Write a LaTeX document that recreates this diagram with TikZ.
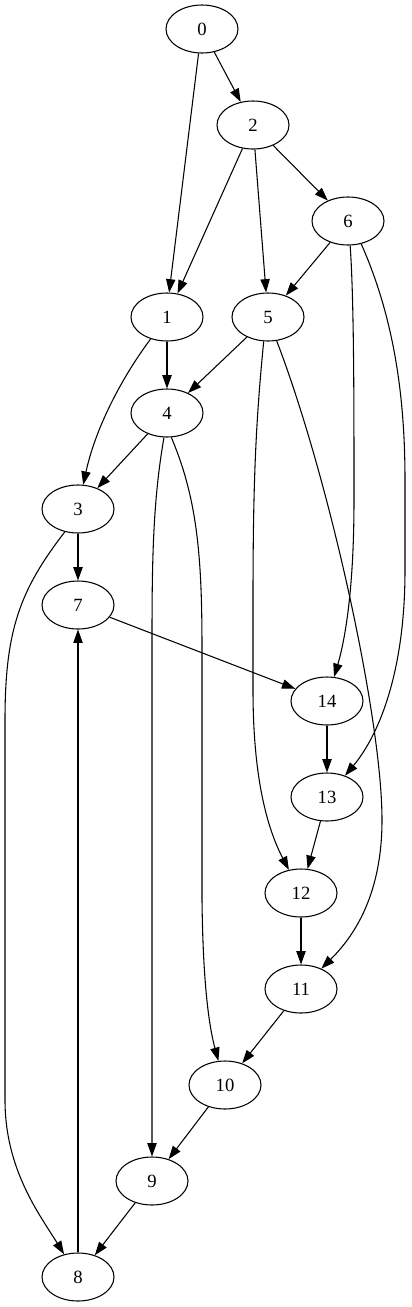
\documentclass[tikz,border=0pt]{standalone}
\usepackage{fontspec}
\setmainfont{Liberation Serif}
\usetikzlibrary{shapes.geometric, arrows.meta}

\begin{document}
\begin{tikzpicture}[
    x=0.75pt, y=-0.75pt,
    >={Triangle[length=10pt,width=7pt]},
    line width=0.8pt,
    vertex/.style={draw, ellipse, minimum width=54pt, minimum height=36pt,
        inner sep=0pt, font=\fontsize{14}{16}\selectfont}
]
    \useasboundingbox (0,0) rectangle (411,1307);

    % Define nodes
    \node[vertex] (n0) at (202,29) {0};
    \node[vertex] (n2) at (253,125) {2};
    \node[vertex] (n6) at (348,221) {6};
    \node[vertex] (n1) at (167,317) {1};
    \node[vertex] (n5) at (268,317) {5};
    \node[vertex] (n4) at (167,413) {4};
    \node[vertex] (n3) at (78,509) {3};
    \node[vertex] (n7) at (78,605) {7};
    \node[vertex] (n14) at (327,701) {14};
    \node[vertex] (n13) at (327,797) {13};
    \node[vertex] (n12) at (301,893) {12};
    \node[vertex] (n11) at (301,989) {11};
    \node[vertex] (n10) at (225,1085) {10};
    \node[vertex] (n9) at (152,1181) {9};
    \node[vertex] (n8) at (78,1277) {8};

    % Straight edges
    \path[->]
        (n0) edge (n2)
        (n0.-98) edge (n1.85)
        (n2) edge (n1)
        (n2) edge (n5)
        (n2) edge (n6)
        (n6) edge (n5)
        (n1) edge (n4)
        (n5) edge (n4)
        (n4) edge (n3)
        (n3) edge (n7)
        (n7) edge (n14)
        (n14) edge (n13)
        (n13) edge (n12)
        (n12) edge (n11)
        (n11) edge (n10)
        (n10) edge (n9)
        (n9) edge (n8)
        (n8) edge (n7);

    % Curved edges
    \draw[->] (n1) .. controls (120,380) and (95,430) .. (n3);
    \draw[->] (n4.-97) .. controls (153,500) and (152,560) .. (152,640) -- (152,1100) .. controls (152,1120) .. (n9);
    \draw[->] (n4.-80) .. controls (198,500) and (202,560) .. (202,650) -- (202,900) .. controls (203,990) and (210,1030) .. (n10);
    \draw[->] (n5.-100) .. controls (256,420) and (253,480) .. (253,600) -- (253,690) .. controls (253,780) and (268,830) .. (n12);
    \draw[->] (n5.-70) .. controls (330,480) and (382,720) .. (382,820) .. controls (382,900) and (350,940) .. (n11);
    \draw[->] (n6.-85) .. controls (354,300) and (354,400) .. (354,500) .. controls (354,590) and (345,640) .. (n14);
    \draw[->] (n6.-60) .. controls (395,320) and (405,400) .. (405,480) -- (405,570) .. controls (405,680) and (375,740) .. (n13);
    \draw[->] (n3.-120) .. controls (20,590) and (5,630) .. (5,720) -- (5,1100) .. controls (5,1170) and (40,1215) .. (n8);
\end{tikzpicture}
\end{document}
